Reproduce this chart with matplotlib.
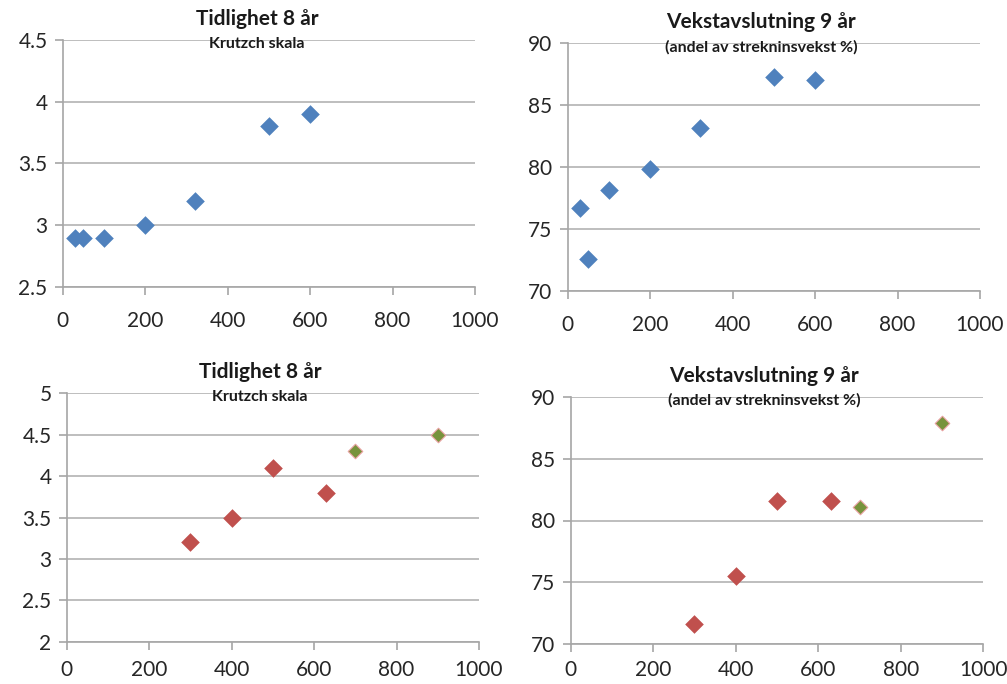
import matplotlib
matplotlib.use("Agg")
import matplotlib.pyplot as plt

# ---- data ----
p1_x = [30, 50, 100, 200, 320, 500, 600]
p1_y = [2.9, 2.9, 2.9, 3.0, 3.2, 3.8, 3.9]

p2_x = [30, 50, 100, 200, 320, 500, 600]
p2_y = [76.7, 72.6, 78.1, 79.8, 83.1, 87.2, 87.0]

p3_red_x = [300, 400, 500, 630]
p3_red_y = [3.2, 3.5, 4.1, 3.8]
p3_green_x = [700, 900]
p3_green_y = [4.3, 4.5]

p4_red_x = [300, 400, 500, 630]
p4_red_y = [71.6, 75.5, 81.6, 81.6]
p4_green_x = [700, 900]
p4_green_y = [81.1, 87.9]

x_ticks = [0, 200, 400, 600, 800, 1000]
y_ticks_p1 = [2.5, 3, 3.5, 4, 4.5]
y_ticks_p2 = [70, 75, 80, 85, 90]
y_ticks_p3 = [2, 2.5, 3, 3.5, 4, 4.5, 5]
y_ticks_p4 = [70, 75, 80, 85, 90]

title_a = "Tidlighet 8 år"
sub_a = "Krutzch skala"
title_b = "Vekstavslutning 9 år"
sub_b = "(andel av strekninsvekst %)"

BLUE = "#4F81BD"
RED = "#C0504D"
GREEN = "#77933C"

plt.rcParams['font.family'] = ['Lato', 'DejaVu Sans']

W, H = 1007, 684
fig = plt.figure(figsize=(W / 100, H / 100), dpi=100)


def mk_axes(l, r, t, b):
    return fig.add_axes([l / W, 1 - b / H, (r - l) / W, (b - t) / H])


def style(ax, yticks, xpad):
    ax.set_xlim(0, 1000)
    ax.set_ylim(yticks[0], yticks[-1])
    ax.set_xticks(x_ticks)
    ax.set_yticks(yticks)
    ax.set_yticklabels([("%g" % v) for v in yticks])
    for s in ("top", "right"):
        ax.spines[s].set_visible(False)
    for s in ("left", "bottom"):
        ax.spines[s].set_color("#A6A6A6")
        ax.spines[s].set_linewidth(1.2)
    ax.grid(axis="y", color="#B3B3B3", linewidth=1.2)
    ax.set_axisbelow(True)
    ax.tick_params(axis="both", colors="#A6A6A6", labelcolor="#262626",
                   labelsize=15, length=6, width=1.2)
    ax.tick_params(axis="y", pad=5)
    ax.tick_params(axis="x", pad=xpad)
    ax.patch.set_alpha(0)


def titles(cx, ty, sy, t, s):
    fig.text(cx / W, 1 - ty / H, t, ha="center", va="center",
             fontsize=15, fontweight="bold", color="#1a1a1a")
    fig.text(cx / W, 1 - sy / H, s, ha="center", va="center",
             fontsize=11.5, fontweight="bold", color="#1a1a1a")


ax1 = mk_axes(62.7, 475, 40, 287)
style(ax1, y_ticks_p1, 11)
ax1.scatter(p1_x, p1_y, marker="D", s=90, color=BLUE, linewidths=0, zorder=3, clip_on=False)
titles(257, 19, 44, title_a, sub_a)

ax2 = mk_axes(567.7, 980, 42.7, 291)
style(ax2, y_ticks_p2, 11)
ax2.scatter(p2_x, p2_y, marker="D", s=90, color=BLUE, linewidths=0, zorder=3, clip_on=False)
titles(761, 22, 47, title_b, sub_b)

ax3 = mk_axes(66.7, 479, 393.3, 641.7)
style(ax3, y_ticks_p3, 7)
ax3.scatter(p3_red_x, p3_red_y, marker="D", s=90, color=RED, linewidths=0, zorder=3, clip_on=False)
ax3.scatter(p3_green_x, p3_green_y, marker="D", s=55, color=GREEN, edgecolors="#E8A0A0",
            linewidths=0.8, zorder=3, clip_on=False)
titles(260, 372, 397, title_a, sub_a)

ax4 = mk_axes(570.7, 983.3, 396.7, 644.3)
style(ax4, y_ticks_p4, 5)
ax4.scatter(p4_red_x, p4_red_y, marker="D", s=90, color=RED, linewidths=0, zorder=3, clip_on=False)
ax4.scatter(p4_green_x, p4_green_y, marker="D", s=55, color=GREEN, edgecolors="#E8A0A0",
            linewidths=0.8, zorder=3, clip_on=False)
titles(764, 376, 400, title_b, sub_b)

fig.savefig("out.png", dpi=100, facecolor="white")
